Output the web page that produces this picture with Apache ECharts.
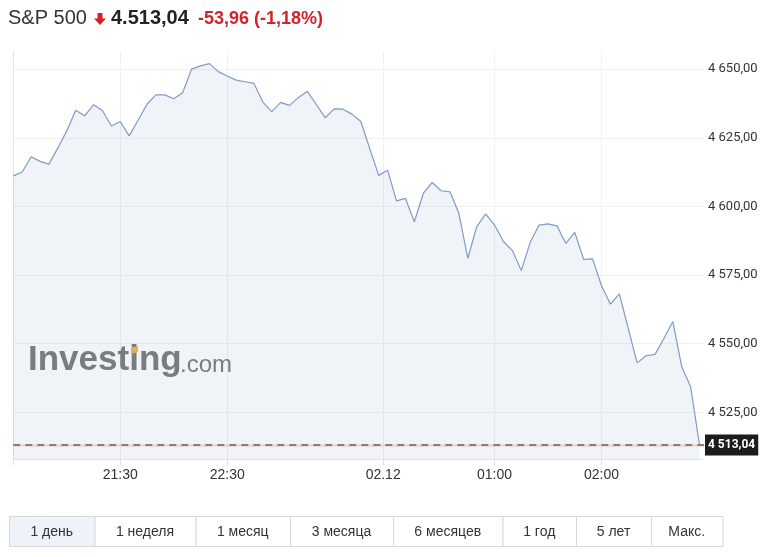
<!DOCTYPE html>
<html><head><meta charset="utf-8">
<script src="https://cdn.jsdelivr.net/npm/echarts@6/dist/echarts.min.js"></script>
<style>html,body{margin:0;padding:0;background:#fff}#c{width:783px;height:557px}</style>
</head><body><div id="c"></div>
<script>
const times = [
 '20:30','20:35','20:40','20:45','20:50','20:55',
 '21:00','21:05','21:10','21:15','21:20','21:25','21:30','21:35','21:40','21:45','21:50','21:55',
 '22:00','22:05','22:10','22:15','22:20','22:25','22:30','22:35','22:40','22:45','22:50','22:55',
 '23:00','23:05','23:10','23:15','23:20','23:25','23:30','23:35','23:40','23:45','23:50','23:55',
 '00:00','00:05','00:10','00:15','00:20','00:25','00:30','00:35','00:40','00:45','00:50','00:55',
 '01:00','01:05','01:10','01:15','01:20','01:25','01:30','01:35','01:40','01:45','01:50','01:55',
 '02:00','02:05','02:10','02:15','02:20','02:25','02:30','02:35','02:40','02:45','02:50','02:55'
];
const prices = [
 4611.1,4612.5,4618.1,4616.4,4615.4,4621.3,4627.5,4635.0,4633.0,4637.0,
 4634.9,4629.3,4630.9,4625.7,4631.4,4637.2,4640.6,4640.6,4639.2,4641.4,
 4650.0,4651.2,4652.0,4649.1,4647.5,4646.0,4645.4,4644.8,4638.0,4634.5,
 4637.9,4636.8,4639.7,4641.9,4637.1,4632.3,4635.5,4635.4,4633.6,4630.9,
 4621.0,4611.3,4613.2,4602.0,4602.9,4594.4,4604.7,4608.7,4605.7,4605.3,
 4597.4,4581.1,4592.6,4597.3,4593.2,4587.2,4583.9,4576.6,4586.9,4593.2,
 4593.6,4592.9,4586.5,4590.5,4580.7,4580.9,4571.1,4564.4,4568.1,4555.6,
 4543.0,4545.6,4546.1,4551.9,4558.1,4541.6,4534.3,4513.04
];
const lastPrice = 4513.04;
const changeAbs = '-53,96';
const changePct = '(-1,18%)';
const title = 'S&P 500';
const priceText = '4.513,04';
const xTickMinutes = [60, 120, 207.5, 270, 330];
const xTickLabels = ['21:30', '22:30', '02.12', '01:00', '02:00'];
const yTicks = [4525, 4550, 4575, 4600, 4625, 4650];
const periods = ['1 день','1 неделя','1 месяц','3 месяца','6 месяцев','1 год','5 лет','Макс.'];

function toMin(t){ const [h,m]=t.split(':').map(Number); return h*60+m; }
const t0 = toMin(times[0]);
const minutes = times.map(t => { let v = toMin(t) - t0; if (v < 0) v += 1440; return v; });
const seriesData = minutes.map((m,i) => [m, prices[i]]);
function fmt(v){ const p = v.toFixed(2).split('.'); return p[0].replace(/\B(?=(\d{3})+(?!\d))/g,' ') + ',' + p[1]; }

const cellEdges = [9, 94.5, 195.5, 290, 393, 502.5, 576, 651, 722.5];
const graphics = [];
// header
graphics.push({type:'text', left:8, top:8, style:{text:title, font:'20px "Liberation Sans", Arial, sans-serif', fill:'#333'}});
graphics.push({type:'polygon', shape:{points:[[97.5,13],[102.5,13],[102.5,18.5],[106,18.5],[100,25],[94,18.5],[97.5,18.5]]}, style:{fill:'#d91f26'}});
graphics.push({type:'text', left:111, top:8, style:{text:priceText, font:'bold 20px "Liberation Sans", Arial, sans-serif', fill:'#222'}});
graphics.push({type:'text', left:198, top:10, style:{text:changeAbs + ' ' + changePct, font:'bold 18px "Liberation Sans", Arial, sans-serif', fill:'#d0232b'}});
// watermark
graphics.push({type:'text', left:28, top:343, z:1, style:{text:'Investing', font:'bold 35px "Liberation Sans", Arial, sans-serif', fill:'#7e7e7e'}});
graphics.push({type:'polygon', z:2, shape:{points:[[131,348],[138,346],[138,352],[131,354]]}, style:{fill:'#f2b84b'}});
graphics.push({type:'text', left:180, top:353, z:1, style:{text:'.com', font:'24px "Liberation Sans", Arial, sans-serif', fill:'#7e7e7e'}});
// buttons
for (let i = 0; i < periods.length; i++) {
  const x0 = cellEdges[i], x1 = cellEdges[i+1];
  graphics.push({type:'rect', shape:{x:x0+0.5, y:516.5, width:x1-x0, height:30}, style:{fill: i===0 ? '#eef2f9' : '#fff', stroke:'#d9d9d9', lineWidth:1}});
  graphics.push({type:'text', x:(x0+x1)/2, y:532, style:{text:periods[i], font:'14px "Liberation Sans", Arial, sans-serif', fill:'#333', align:'center', verticalAlign:'middle'}});
}

const chart = echarts.init(document.getElementById('c'), null, {renderer:'canvas'});
chart.setOption({
  animation:false,
  backgroundColor:'#fff',
  grid:{left:13.3, right:79, top:51, bottom:97.5, outerBoundsMode:'none'},
  xAxis:{
    type:'value', min:0, max:387.5,
    axisLine:{show:true, lineStyle:{color:'#e6e6e6'}},
    axisTick:{show:true, customValues:[0].concat(xTickMinutes), length:6, lineStyle:{color:'#e2e2e2'}},
    axisLabel:{customValues:xTickMinutes, margin:9, color:'#333', fontSize:14, fontFamily:'"Liberation Sans", Arial, sans-serif',
      formatter: v => { const i = xTickMinutes.indexOf(v); return i >= 0 ? xTickLabels[i] : ''; }},
    splitLine:{show:true, lineStyle:{color:'#eff1f4', width:1}}
  },
  yAxis:{
    type:'value', position:'right', min:4507.8, max:4656.6, scale:true,
    axisLine:{show:true, lineStyle:{color:'#e3e3e3'}},
    axisTick:{show:false, customValues:yTicks},
    axisLabel:{customValues:yTicks, margin:4, color:'#333', fontSize:13, fontFamily:'Roboto, sans-serif', formatter: v => fmt(v)},
    splitLine:{show:true, lineStyle:{color:'#f1f1f1', width:1}}
  },
  graphic: graphics,
  series:[{
    type:'line', data:seriesData, showSymbol:false, z:3,
    lineStyle:{color:'#7f9bc7', width:1.2},
    areaStyle:{color:'rgba(60,100,170,0.113)', origin:'start'},
    markLine:{
      symbol:['none','none'], silent:true, animation:false,
      data:[
        {yAxis:lastPrice, lineStyle:{color:'#ecd3d6', width:2.5, type:'solid'}, label:{show:false}},
        {yAxis:lastPrice, lineStyle:{color:'#6f5d61', width:1.5, type:[7,5]},
         label:{show:true, position:'end', distance:1, formatter: () => fmt(lastPrice), backgroundColor:'#1c1c1c', color:'#fff',
           fontWeight:'bold', fontSize:12, fontFamily:'Roboto, sans-serif', padding:[5,3,4,3]}}
      ]
    }
  }]
});
</script></body></html>
